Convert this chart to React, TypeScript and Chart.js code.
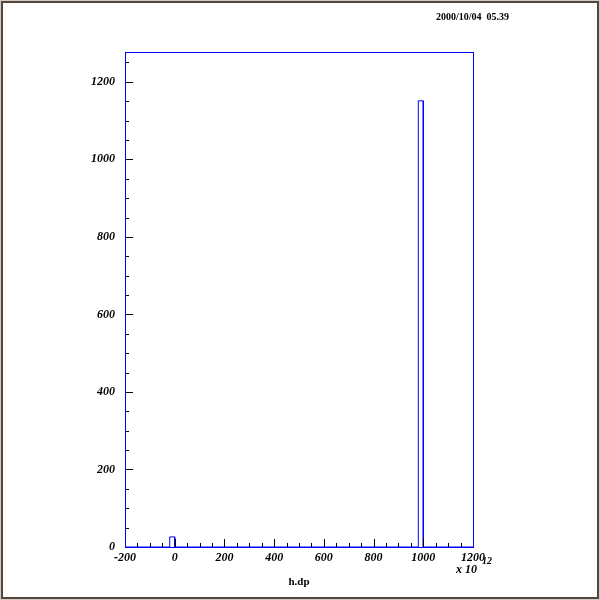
import React, { useEffect, useRef } from "react";
import { Chart, registerables } from "chart.js";

Chart.register(...registerables);

// Histogram h.dp (x in units of 10^12)
const binLow = [-20, 980];
const binCount = [26, 1151];
const binWidth = 20;
const xRange = [-200, 1200];
const yRange = [0, 1277];
const xTickLabels = [-200, 0, 200, 400, 600, 800, 1000, 1200];
const yTickLabels = [0, 200, 400, 600, 800, 1000, 1200];
const minorStep = 50;
const dateText = "2000/10/04  05.39";
const xTitle = "h.dp";

const LABEL_FONT = "bold italic 12px 'Liberation Serif', 'DejaVu Serif', serif";

function buildOutline() {
  const pts: { x: number; y: number }[] = [{ x: xRange[0], y: 0 }];
  binLow.forEach((lo, i) => {
    const c = binCount[i];
    pts.push({ x: lo, y: 0 }, { x: lo, y: c }, { x: lo + binWidth, y: c }, { x: lo + binWidth, y: 0 });
  });
  pts.push({ x: xRange[1], y: 0 });
  return pts;
}

const decorPlugin = {
  id: "decor",
  beforeDraw(chart: any) {
    const { ctx, width, height } = chart;
    ctx.save();
    ctx.fillStyle = "#ffffff";
    ctx.fillRect(0, 0, width, height);
    ctx.strokeStyle = "#d4ccc4";
    ctx.lineWidth = 1;
    ctx.strokeRect(0.5, 0.5, width - 1, height - 1);
    ctx.strokeStyle = "#54463c";
    ctx.lineWidth = 2;
    ctx.strokeRect(2, 2, width - 4, height - 4);
    ctx.restore();
  },
  afterDatasetsDraw(chart: any) {
    const { ctx, chartArea } = chart;
    const xs = chart.scales.x;
    const ys = chart.scales.y;
    const { left, right, top, bottom } = chartArea;
    ctx.save();
    // ticks (inside frame)
    ctx.strokeStyle = "#000000";
    ctx.lineWidth = 1;
    ctx.beginPath();
    for (let v = xRange[0] + minorStep; v < xRange[1]; v += minorStep) {
      const px = Math.round(xs.getPixelForValue(v)) + 0.5;
      const len = xTickLabels.includes(v) ? 8 : 4;
      ctx.moveTo(px, bottom);
      ctx.lineTo(px, bottom - len);
    }
    for (let v = yRange[0] + minorStep; v < yRange[1]; v += minorStep) {
      const py = Math.round(ys.getPixelForValue(v)) + 0.5;
      const len = yTickLabels.includes(v) ? 8 : 4;
      ctx.moveTo(left, py);
      ctx.lineTo(left + len, py);
    }
    ctx.stroke();
    // frame
    ctx.strokeStyle = "#0000ff";
    ctx.strokeRect(Math.round(left) + 0.5, Math.round(top) + 0.5, Math.round(right - left), Math.round(bottom - top));
    // texts
    ctx.fillStyle = "#000000";
    ctx.textBaseline = "middle";
    ctx.font = "bold 10px 'Liberation Serif', 'DejaVu Serif', serif";
    ctx.textAlign = "left";
    ctx.fillText(dateText, 436, 17);
    ctx.font = "bold 11px 'Liberation Serif', 'DejaVu Serif', serif";
    ctx.textAlign = "center";
    ctx.fillText(xTitle, 299, 582);
    ctx.font = LABEL_FONT;
    ctx.textAlign = "left";
    ctx.fillText("x 10", 456, 570);
    ctx.font = "bold italic 10px 'Liberation Serif', 'DejaVu Serif', serif";
    ctx.fillText("12", 482, 561);
    ctx.restore();
  },
};

const tickFont = { family: "'Liberation Serif', 'DejaVu Serif', serif", size: 12, style: "italic" as const, weight: "bold" as const };

export default function App() {
  const ref = useRef<HTMLCanvasElement | null>(null);
  useEffect(() => {
    document.body.style.margin = "0";
    if (!ref.current) return;
    const chart = new Chart(ref.current, {
      type: "line",
      data: {
        datasets: [
          {
            data: buildOutline(),
            borderColor: "#0000ff",
            borderWidth: 1,
            pointRadius: 0,
            tension: 0,
            fill: false,
          },
        ],
      },
      options: {
        animation: false,
        responsive: false,
        layout: { padding: { top: 52, right: 127, left: 0, bottom: 0 } },
        plugins: { legend: { display: false }, tooltip: { enabled: false } },
        scales: {
          x: {
            type: "linear",
            min: xRange[0],
            max: xRange[1],
            afterFit: (s: any) => {
              s.height = 53;
            },
            afterBuildTicks: (s: any) => {
              s.ticks = xTickLabels.map((v) => ({ value: v }));
            },
            grid: { display: false, drawTicks: false },
            border: { display: false },
            ticks: {
              padding: 4,
              color: "#000000",
              maxRotation: 0,
              autoSkip: false,
              font: tickFont,
              callback: (v: any) => String(v),
            },
          },
          y: {
            type: "linear",
            min: yRange[0],
            max: yRange[1],
            afterFit: (s: any) => {
              s.width = 125;
            },
            afterBuildTicks: (s: any) => {
              s.ticks = yTickLabels.map((v) => ({ value: v }));
            },
            grid: { display: false, drawTicks: false },
            border: { display: false },
            ticks: {
              padding: 10,
              color: "#000000",
              autoSkip: false,
              font: tickFont,
              callback: (v: any) => String(v),
            },
          },
        },
      },
      plugins: [decorPlugin],
    });
    return () => chart.destroy();
  }, []);
  return <canvas ref={ref} width={600} height={600} style={{ display: "block", width: 600, height: 600 }} />;
}
